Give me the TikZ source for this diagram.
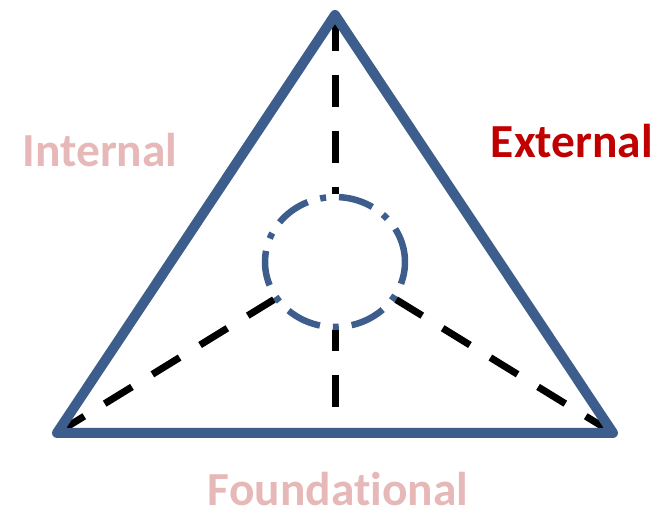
\documentclass[tikz,border=0pt]{standalone}
\usepackage{fontspec}
\setmainfont{Carlito}[Ligatures=CommonOff]
\usepackage{xcolor}
\usepackage{tikz}
\usetikzlibrary{positioning, shapes.geometric}
\definecolor{FrameBlue}{RGB}{61,94,141}
\definecolor{SoftPink}{RGB}{230,185,184}
\definecolor{DeepRed}{RGB}{192,0,0}
\tikzset{
  frame/.style={draw=FrameBlue, line width=0.2cm, line join=round, line cap=round},
  spoke/.style={draw=black, line width=0.14cm, dash pattern=on 0.64cm off 0.48cm},
  hub/.style={ellipse, draw=FrameBlue, line width=0.13cm, minimum width=2.8cm, minimum height=2.6cm,
    inner sep=0pt, dash pattern=on 0.7cm off 0.26cm on 0.12cm off 0.26cm},
  sidelabel/.style={font=\bfseries\fontsize{27}{32}\selectfont, anchor=base, inner sep=0pt},
}
\begin{document}
\begin{tikzpicture}[x=0.02cm, y=-0.02cm]
  \useasboundingbox (0,0) rectangle (667,516);
  % corners of the triangle
  \coordinate (top) at (335,19);
  \coordinate (left) at (57,433);
  \coordinate (right) at (613,433);
  \coordinate (foot) at (335,407);
  \node[hub] (core) at (335,262) {};
  % spokes
  \draw[spoke] (top) -- (core.north);
  \draw[spoke] (left) -- (core);
  \draw[spoke] (right) -- (core);
  \draw[spoke] (foot) -- (core.south);
  \draw[frame] (335,15) -- (right) -- (left) -- cycle;
  % labels
  \node[sidelabel, text=SoftPink] (internal) at (100,167) {Internal};
  \node[sidelabel, text=DeepRed] (external) at (572,158) {External};
  \node[sidelabel, text=SoftPink] (foundational) at (338,506) {Foundational};
\end{tikzpicture}
\end{document}
